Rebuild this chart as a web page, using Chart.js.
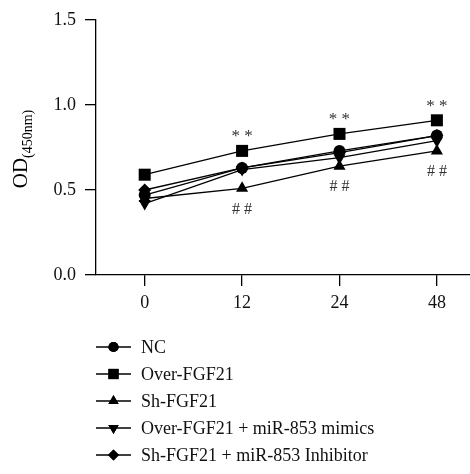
<!DOCTYPE html>
<html>
<head>
<meta charset="utf-8">
<script src="https://cdn.jsdelivr.net/npm/chart.js@4/dist/chart.umd.min.js"></script>
<style>
html,body{margin:0;padding:0;background:#fff;}
#wrap{position:relative;width:470px;height:474px;}
</style>
</head>
<body>
<div id="wrap"><canvas id="c" width="470" height="474"></canvas></div>
<script>
// ---- data ----
const xLabels = ['0', '12', '24', '48'];
const ncValues = [0.47, 0.63, 0.73, 0.82];
const overValues = [0.59, 0.73, 0.83, 0.91];
const shValues = [0.45, 0.51, 0.64, 0.73];
const overMimicsValues = [0.42, 0.62, 0.69, 0.79];
const shInhibValues = [0.50, 0.63, 0.72, 0.82];
const seriesNames = ['NC', 'Over-FGF21', 'Sh-FGF21', 'Over-FGF21 + miR-853 mimics', 'Sh-FGF21 + miR-853 Inhibitor'];
const starMarks = ['', '* *', '* *', '* *'];   // above Over-FGF21
const hashMarks = ['', '# #', '# #', '# #'];   // below Sh-FGF21
const yTicks = [0, 0.5, 1.0, 1.5];

const FONT = '"Liberation Serif", "DejaVu Serif", serif';

function pts(arr){ return arr.map((v,i)=>({x:i,y:v})); }

const styles = [
  {pointStyle:'circle', radius:6, rotation:0},
  {pointStyle:'rect', radius:8.5, rotation:0},
  {pointStyle:'triangle', radius:7, rotation:0},
  {pointStyle:'triangle', radius:7, rotation:180},
  {pointStyle:'rectRot', radius:6.5, rotation:0}
];
const valueSets = [ncValues, overValues, shValues, overMimicsValues, shInhibValues];

const datasets = valueSets.map((vals, k) => ({
  label: seriesNames[k],
  data: pts(vals),
  borderColor: '#000',
  backgroundColor: '#000',
  borderWidth: 1.3,
  pointStyle: styles[k].pointStyle,
  pointRadius: styles[k].radius,
  pointRotation: styles[k].rotation,
  pointBorderWidth: 0,
  pointBackgroundColor: '#000',
  tension: 0,
  clip: false
}));

const extras = {
  id: 'extras',
  afterDatasetsDraw(chart) {
    const ctx = chart.ctx;
    const xs = chart.scales.x, ys = chart.scales.y;
    ctx.save();
    ctx.fillStyle = '#333';
    ctx.textAlign = 'center';
    ctx.textBaseline = 'middle';
    ctx.font = '17px ' + FONT;
    starMarks.forEach((m, i) => {
      if (!m) return;
      const px = xs.getPixelForValue(i), py = ys.getPixelForValue(overValues[i]);
      ctx.fillText(m, px, py - 14);
    });
    ctx.font = '16px ' + FONT;
    hashMarks.forEach((m, i) => {
      if (!m) return;
      const px = xs.getPixelForValue(i), py = ys.getPixelForValue(shValues[i]);
      ctx.fillText(m, px, py + 21);
    });
    ctx.restore();

    // y title OD(450nm)
    ctx.save();
    ctx.fillStyle = '#000';
    ctx.translate(27, 149);
    ctx.rotate(-Math.PI/2);
    ctx.textBaseline = 'alphabetic';
    ctx.font = '21px ' + FONT;
    const w1 = ctx.measureText('OD').width;
    ctx.font = '14px ' + FONT;
    const w2 = ctx.measureText('(450nm)').width;
    const start = -(w1 + w2)/2;
    ctx.font = '21px ' + FONT;
    ctx.textAlign = 'left';
    ctx.fillText('OD', start, 0);
    ctx.font = '14px ' + FONT;
    ctx.fillText('(450nm)', start + w1, 5);
    ctx.restore();

    // legend
    ctx.save();
    const lx0 = 96, lx1 = 131, tx = 141, y0 = 347, dy = 27;
    chart.data.datasets.forEach((ds, k) => {
      const y = y0 + k*dy;
      ctx.strokeStyle = '#000';
      ctx.lineWidth = 1.3;
      ctx.beginPath(); ctx.moveTo(lx0, y); ctx.lineTo(lx1, y); ctx.stroke();
      ctx.fillStyle = '#000';
      Chart.helpers.drawPoint(ctx, {pointStyle: ds.pointStyle, radius: ds.pointRadius*0.85, rotation: ds.pointRotation, borderWidth: 0}, (lx0+lx1)/2, y);
      ctx.fill();
      ctx.font = '18px ' + FONT;
      ctx.textAlign = 'left';
      ctx.textBaseline = 'middle';
      ctx.fillStyle = '#111';
      ctx.fillText(ds.label, tx, y + 1);
    });
    ctx.restore();
  }
};

new Chart(document.getElementById('c'), {
  type: 'line',
  data: { datasets },
  options: {
    responsive: false,
    animation: false,
    layout: { autoPadding: false, padding: { top: 20, right: 0, left: 0, bottom: 159 } },
    plugins: { legend: { display: false }, tooltip: { enabled: false } },
    scales: {
      x: {
        type: 'linear',
        min: -0.5,
        max: 3.34,
        afterBuildTicks: (axis) => { axis.ticks = xLabels.map((_, i) => ({ value: i })); },
        ticks: {
          callback: (v) => xLabels[v] ?? '',
          color: '#111',
          font: { family: FONT, size: 18 },
          padding: 6,
          maxRotation: 0,
          autoSkip: false
        },
        grid: { drawOnChartArea: false, drawTicks: true, tickLength: 11, color: '#000', lineWidth: 1.3 },
        border: { display: true, color: '#000', width: 1.3 },
        afterFit: (s) => { s.height = 40; s.paddingLeft = 0; s.paddingRight = 0; }
      },
      y: {
        min: 0,
        max: 1.5,
        afterBuildTicks: (axis) => { axis.ticks = yTicks.map(v => ({ value: v })); },
        ticks: {
          callback: (v) => Number(v).toFixed(1),
          color: '#111',
          font: { family: FONT, size: 18 },
          padding: 9
        },
        grid: { drawOnChartArea: false, drawTicks: true, tickLength: 11, color: '#000', lineWidth: 1.3 },
        border: { display: true, color: '#000', width: 1.3 },
        afterFit: (s) => { s.width = 96; s.paddingTop = 0; s.paddingBottom = 0; }
      }
    }
  },
  plugins: [extras]
});
</script>
</body>
</html>
